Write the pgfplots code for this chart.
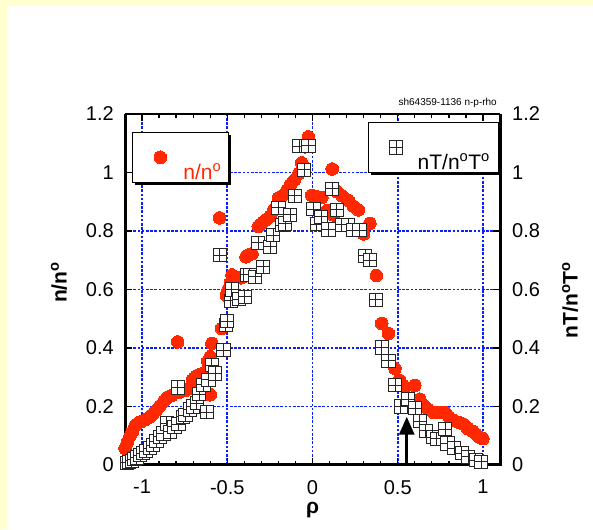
\documentclass[border=0pt]{standalone}
\usepackage{pgfplots}
\pgfplotsset{compat=1.18}
\usepackage{pgfplotstable}
\usepackage{fontspec}
\setmainfont{Liberation Sans}
\usetikzlibrary{shadows,arrows.meta}
\definecolor{dotred}{RGB}{255,40,0}
\definecolor{bgyellow}{RGB}{255,255,208}
\definecolor{gridblue}{RGB}{10,30,255}

\pgfdeclareplotmark{sqplus}{%
  \pgfpathrectangle{\pgfpoint{-\pgfplotmarksize}{-\pgfplotmarksize}}{\pgfpoint{2\pgfplotmarksize}{2\pgfplotmarksize}}%
  \pgfusepathqfillstroke
  \pgfpathmoveto{\pgfpoint{-\pgfplotmarksize}{0pt}}\pgfpathlineto{\pgfpoint{\pgfplotmarksize}{0pt}}%
  \pgfpathmoveto{\pgfpoint{0pt}{-\pgfplotmarksize}}\pgfpathlineto{\pgfpoint{0pt}{\pgfplotmarksize}}%
  \pgfusepathqstroke
}

\pgfplotstableread{
rho n
-1.100 0.057
-1.085 0.080
-1.070 0.100
-1.055 0.115
-1.040 0.135
-1.020 0.145
-1.000 0.150
-0.980 0.155
-0.960 0.162
-0.940 0.172
-0.915 0.188
-0.895 0.202
-0.870 0.220
-0.850 0.232
-0.825 0.238
-0.800 0.248
-0.791 0.421
-0.775 0.250
-0.745 0.255
-0.720 0.262
-0.705 0.290
-0.685 0.303
-0.660 0.310
-0.640 0.315
-0.615 0.355
-0.600 0.240
-0.600 0.370
-0.590 0.416
-0.545 0.845
-0.533 0.467
-0.505 0.580
-0.495 0.600
-0.480 0.625
-0.472 0.650
-0.450 0.640
-0.420 0.640
-0.405 0.645
-0.390 0.712
-0.375 0.718
-0.355 0.722
-0.318 0.815
-0.300 0.825
-0.270 0.840
-0.250 0.850
-0.230 0.870
-0.200 0.912
-0.180 0.920
-0.150 0.940
-0.130 0.958
-0.105 0.975
-0.080 0.997
-0.063 1.033
-0.044 1.088
-0.024 1.122
-0.005 0.922
0.020 0.918
0.055 0.915
0.085 0.870
0.116 1.012
0.122 0.855
0.145 0.934
0.175 0.920
0.210 0.905
0.240 0.885
0.269 0.872
0.300 0.790
0.337 0.826
0.375 0.648
0.406 0.484
0.445 0.450
0.484 0.330
0.510 0.290
0.540 0.268
0.600 0.272
0.630 0.225
0.650 0.205
0.680 0.190
0.709 0.180
0.740 0.180
0.777 0.180
0.800 0.165
0.830 0.152
0.860 0.145
0.885 0.140
0.910 0.125
0.940 0.115
0.960 0.105
0.980 0.095
1.000 0.090
}\ndata

\pgfplotstableread{
rho nT
-1.090 0.008
-1.075 0.010
-1.060 0.015
-1.045 0.020
-1.030 0.026
-1.012 0.034
-0.995 0.040
-0.975 0.048
-0.955 0.058
-0.935 0.068
-0.915 0.082
-0.895 0.097
-0.875 0.108
-0.855 0.142
-0.836 0.114
-0.810 0.131
-0.790 0.265
-0.787 0.140
-0.760 0.165
-0.745 0.170
-0.719 0.190
-0.700 0.200
-0.680 0.211
-0.665 0.242
-0.640 0.275
-0.621 0.180
-0.611 0.291
-0.591 0.342
-0.572 0.313
-0.543 0.717
-0.523 0.393
-0.510 0.478
-0.500 0.492
-0.480 0.562
-0.474 0.600
-0.432 0.567
-0.398 0.575
-0.386 0.650
-0.367 0.650
-0.337 0.644
-0.318 0.760
-0.289 0.678
-0.249 0.746
-0.230 0.786
-0.200 0.880
-0.181 0.820
-0.161 0.826
-0.132 0.855
-0.103 0.920
-0.078 1.090
-0.049 1.009
-0.024 1.092
0.005 0.875
0.024 0.823
0.050 0.849
0.093 0.805
0.116 0.945
0.142 0.872
0.171 0.821
0.210 0.821
0.240 0.803
0.275 0.803
0.308 0.715
0.337 0.700
0.372 0.565
0.406 0.402
0.445 0.356
0.484 0.273
0.518 0.200
0.562 0.225
0.601 0.194
0.630 0.150
0.665 0.117
0.705 0.095
0.730 0.090
0.777 0.122
0.792 0.074
0.830 0.057
0.875 0.040
0.912 0.028
0.958 0.017
0.990 0.011
}\ntdata

\pgfplotsset{
  base/.style={
    at={(125pt,64pt)}, anchor=south west,
    scale only axis, width=375pt, height=351pt,
    xmin=-1.1, xmax=1.1, ymin=0, ymax=1.2,
    ytick={0,0.2,0.4,0.6,0.8,1,1.2},
    yticklabels={0,0.2,0.4,0.6,0.8,1,1.2},
    tick align=inside,
    major tick length=7pt, minor tick length=4pt,
    every tick/.style={black, line width=1.3pt},
    axis line style={draw=none},
    tick label style={font=\fontsize{20}{24}\selectfont, inner sep=0pt},
    label style={font=\fontsize{21}{25}\selectfont\bfseries},
    legend style={draw=black, line width=0.8pt, fill=white,
      inner sep=0pt, column sep=0pt, row sep=0pt,
      nodes={inner sep=0pt},
      font=\fontsize{21}{25}\selectfont,
      drop shadow={shadow xshift=3pt, shadow yshift=-3pt, fill=black, opacity=1}},
  }
}

\begin{document}
\begin{tikzpicture}
\fill[bgyellow] (0pt,0pt) rectangle (593pt,529pt);
\fill[white] (7pt,0pt) rectangle (593pt,523pt);
\node[anchor=east, font=\fontsize{10}{12}\selectfont, inner sep=0pt] at (497pt,426pt) {sh64359-1136 n-p-rho};

\begin{axis}[base,
  clip=false,
  xtick={-1,-0.5,0,0.5,1},
  xticklabels={-1,-0.5,0,0.5,1},
  minor x tick num=4,
  xtick pos=both, ytick pos=left,
  grid=major,
  major grid style={gridblue, line width=1.6pt, dash pattern=on 2.6pt off 1.6pt},
  xticklabel style={yshift=-15pt},
  yticklabel style={xshift=-11pt},
  xlabel={ρ},
  xlabel style={at={(axis description cs:0.5,-0.128)}, anchor=center},
  ylabel={n/n\textsuperscript{o}},
  ylabel style={at={(axis description cs:-0.176,0.52)}, anchor=center},
  legend style={at={(axis description cs:0.0187,0.949)}, anchor=north west},
  legend image code/.code={%
    \pgfpathrectangle{\pgfpoint{0pt}{-10pt}}{\pgfpoint{51pt}{50pt}}\pgfusepath{discard}%
    \draw[#1] plot coordinates {(28pt,15pt)};},
]
\addplot[only marks, mark=*, mark size=6.3pt,
  mark options={fill=dotred, draw=dotred, line width=0pt}] table[x=rho, y=n] {\ndata};
\addlegendentry{\textcolor{dotred}{n/n\textsuperscript{o}}\hspace*{7pt}}
\draw[line width=3pt] (rel axis cs:0,1) -- (rel axis cs:0,0) -- (rel axis cs:1,0) -- (rel axis cs:1,1);
\draw[line width=1.2pt] (rel axis cs:0,1) -- (rel axis cs:1,1);
\end{axis}

\begin{axis}[base,
  clip=false,
  xtick=\empty,
  ytick pos=right, yticklabel pos=right,
  yticklabel style={anchor=west, xshift=12pt},
  ylabel={nT/n\textsuperscript{o}T\textsuperscript{o}},
  ylabel style={at={(axis description cs:1.187,0.47)}, anchor=center},
  legend style={at={(axis description cs:0.9955,0.977)}, anchor=north east},
  legend image code/.code={%
    \pgfpathrectangle{\pgfpoint{0pt}{-10pt}}{\pgfpoint{49.7pt}{50pt}}\pgfusepath{discard}%
    \draw[#1] plot coordinates {(28pt,15pt)};},
]
\addplot[only marks, mark=sqplus, mark size=6.6pt,
  mark options={fill=white, draw=black!85, line width=0.9pt}] table[x=rho, y=nT] {\ntdata};
\addlegendentry{nT/n\textsuperscript{o}T\textsuperscript{o}\hspace*{8pt}}
\draw[line width=3pt, -{Triangle[width=15pt,length=18pt]}] (axis cs:0.553,0) -- (axis cs:0.553,0.165);
\end{axis}
\pgfresetboundingbox
\useasboundingbox (0pt,0pt) rectangle (593pt,529pt);
\end{tikzpicture}
\end{document}
